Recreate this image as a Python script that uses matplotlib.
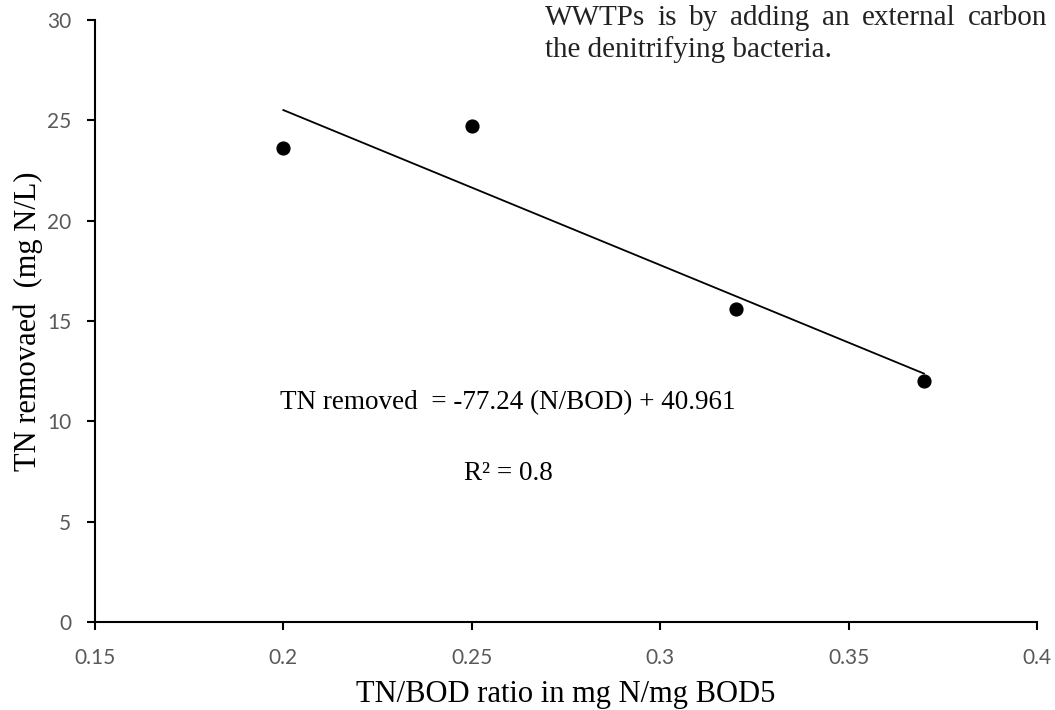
import numpy as np
import matplotlib
matplotlib.use('Agg')
import matplotlib.pyplot as plt

# data
ratio = [0.2, 0.25, 0.32, 0.37]
tn_removed = [23.6, 24.7, 15.6, 12.0]
slope = -77.24
intercept = 40.961
r2 = 0.8

xticks = [0.15, 0.2, 0.25, 0.3, 0.35, 0.4]
xtick_labels = ['0.15', '0.2', '0.25', '0.3', '0.35', '0.4']
yticks = [0, 5, 10, 15, 20, 25, 30]

line1_words = ['WWTPs', 'is', 'by', 'adding', 'an', 'external', 'carbon']
line2 = 'the denitrifying bacteria.'

serif = 'Liberation Serif'

fig = plt.figure(figsize=(10.55, 7.1), dpi=100)
ax = fig.add_axes([0.0900, 0.1239, 0.8929, 0.8479])

ax.scatter(ratio, tn_removed, s=85, color='black', zorder=3)
xfit = np.array([min(ratio), max(ratio)])
ax.plot(xfit, slope * xfit + intercept, color='black', lw=1.3)

ax.set_xlim(0.15, 0.4)
ax.set_ylim(0, 30)
ax.set_xticks(xticks)
ax.set_xticklabels(xtick_labels)
ax.set_yticks(yticks)

for s in ['top', 'right']:
    ax.spines[s].set_visible(False)
for s in ['left', 'bottom']:
    ax.spines[s].set_linewidth(1.5)
    ax.spines[s].set_color('black')

ax.tick_params(axis='both', direction='out', length=6, width=1.5, color='black',
               labelcolor='#595959', labelsize=15)
ax.tick_params(axis='y', pad=11)
ax.tick_params(axis='x', pad=13)
for lab in ax.get_xticklabels() + ax.get_yticklabels():
    lab.set_fontfamily('Lato')

ax.set_xlabel('TN/BOD ratio in mg N/mg BOD5', fontfamily=serif, fontsize=22, labelpad=8)
ax.set_ylabel('TN removaed  (mg N/L)', fontfamily=serif, fontsize=22, labelpad=3)

ax.text(0.2595, 10.6, 'TN removed  = %.2f (N/BOD) + %.3f' % (slope, intercept),
        fontfamily=serif, fontsize=19.5, ha='center', va='baseline')
ax.text(0.2597, 7.08, 'R² = %.1f' % r2, fontfamily=serif, fontsize=19.5,
        ha='center', va='baseline')

# stray justified text from the source document, cut off at the figure edge
x0, x1 = 545, 1047
fig.canvas.draw()
rend = fig.canvas.get_renderer()
words = [fig.text(0, 1 - 25 / 710, w, fontfamily=serif, fontsize=21,
                  color='#222222', va='baseline') for w in line1_words]
widths = [t.get_window_extent(rend).width for t in words]
gap = (x1 - x0 - sum(widths)) / (len(words) - 1)
pos = x0
for t, w in zip(words, widths):
    t.set_x(pos / 1055)
    pos += w + gap
fig.text(x0 / 1055, 1 - 57 / 710, line2, fontfamily=serif, fontsize=21,
         color='#222222', ha='left', va='baseline')

plt.savefig('out.png', dpi=100)
